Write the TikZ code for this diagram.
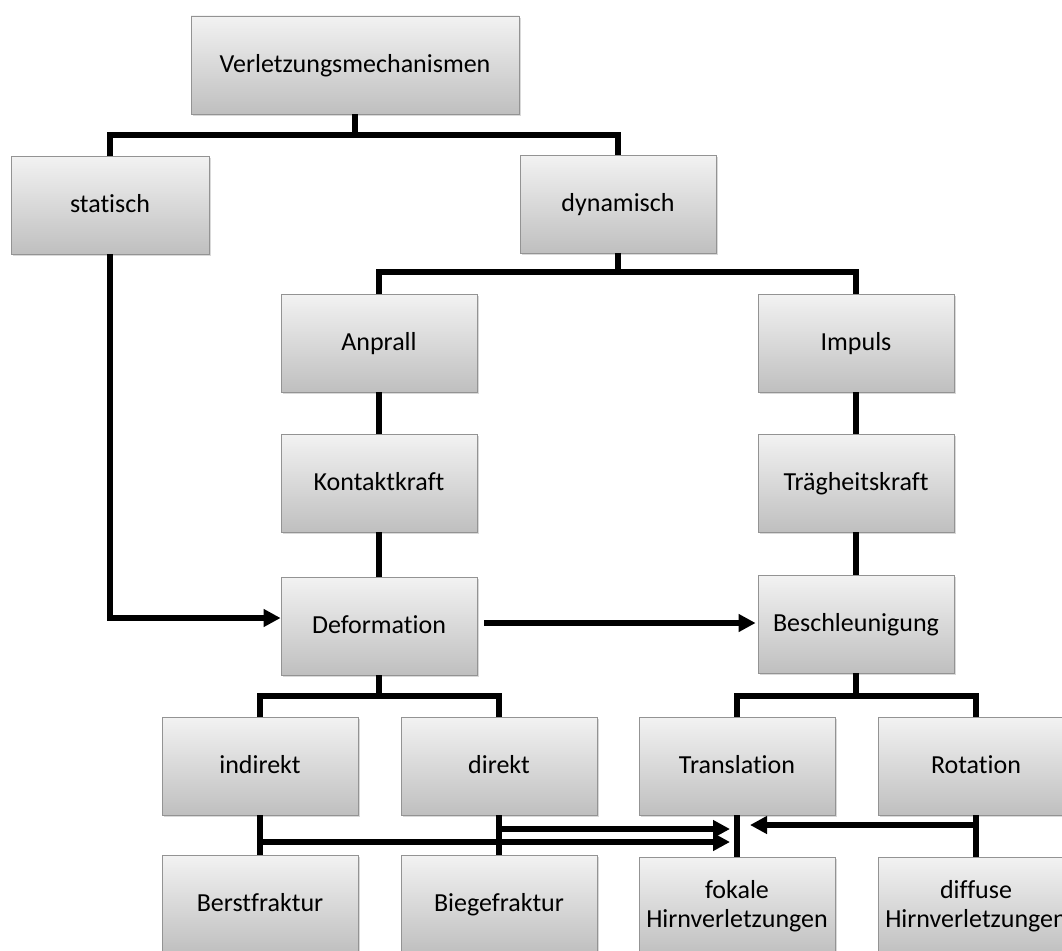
\documentclass[tikz,border=0pt]{standalone}
\usepackage{fontspec}
\setmainfont[Ligatures=NoCommon]{Carlito}
\usetikzlibrary{arrows.meta, shadows}

\begin{document}
\begin{tikzpicture}[x=1pt, y=-1pt,
    box/.style={draw=gray!85, line width=0.8pt, top color=gray!10, bottom color=gray!50,
                minimum width=196pt, minimum height=98pt, inner sep=0pt, align=center,
                text height=18pt, text depth=4pt,
                font=\fontsize{26pt}{29pt}\selectfont,
                drop shadow={shadow xshift=2pt, shadow yshift=-2pt, opacity=0.3}},
    box2/.style={box, text height=47pt},
    lnk/.style={line width=5.5pt},
    arr/.style={lnk, -{Triangle[length=17pt, width=17pt]}},
]
    \useasboundingbox (0,0) rectangle (1062,950);

    % levels of the forks and of the bottom arrows
    \coordinate (j1) at (0,135);
    \coordinate (j2) at (0,272);
    \coordinate (j3) at (0,696);
    \coordinate (ya) at (0,842);
    \coordinate (yb) at (0,829);
    \coordinate (yc) at (0,825);

    % boxes
    \node[box, minimum width=328pt] (top) at (355,65) {Verletzungsmechanismen};
    \node[box, minimum width=198pt] (stat) at (110,205) {statisch};
    \node[box] (dyn) at (618,204) {dynamisch};
    \node[box] (anp) at (379,343) {Anprall};
    \node[box] (imp) at (856,343) {Impuls};
    \node[box] (kon) at (379,483) {Kontaktkraft};
    \node[box] (trg) at (856,483) {Trägheitskraft};
    \node[box] (def) at (379,626) {Deformation};
    \node[box] (bsl) at (856,624) {Beschleunigung};
    \node[box] (ind) at (260,766) {indirekt};
    \node[box] (dir) at (499,766) {direkt};
    \node[box] (trn) at (737,766) {Translation};
    \node[box] (rot) at (976,766) {Rotation};
    \node[box] (bst) at (260,904) {Berstfraktur};
    \node[box] (bgf) at (499,904) {Biegefraktur};
    \node[box2] (fok) at (737,906) {fokale\\Hirnverletzungen};
    \node[box2] (dif) at (976,906) {diffuse\\Hirnverletzungen};

    % tree
    \draw[lnk] (top.south) -- (top.south |- j1);
    \draw[lnk] (stat.north) |- (dyn.north |- j1) -- (dyn.north);
    \draw[lnk] (dyn.south) -- (dyn.south |- j2);
    \draw[lnk] (anp.north) |- (imp.north |- j2) -- (imp.north);
    \draw[lnk] (anp) -- (kon);
    \draw[lnk] (kon) -- (def);
    \draw[lnk] (imp) -- (trg);
    \draw[lnk] (trg) -- (bsl);
    \draw[lnk] (def.south) -- (def.south |- j3);
    \draw[lnk] (ind.north) |- (dir.north |- j3) -- (dir.north);
    \draw[lnk] (bsl.south) -- (bsl.south |- j3);
    \draw[lnk] (trn.north) |- (rot.north |- j3) -- (rot.north);
    \draw[lnk] (ind) -- (bst);
    \draw[lnk] (dir) -- (bgf);
    \draw[lnk] (trn) -- (fok);
    \draw[lnk] (rot) -- (dif);

    % arrows
    \draw[arr] (stat.south) |- ([yshift=8pt]def.west);
    \draw[arr, shorten <=7pt, shorten >=2pt] ([yshift=3pt]def.east) -- ([yshift=1pt]bsl.west);
    \draw[arr, shorten >=7pt] (ind.south |- ya) -- (trn.south |- ya);
    \draw[arr, shorten <=3pt, shorten >=7pt] (dir.south |- yb) -- (trn.south |- yb);
    \draw[arr, shorten >=13pt] (rot.south |- yc) -- (trn.south |- yc);
\end{tikzpicture}
\end{document}
